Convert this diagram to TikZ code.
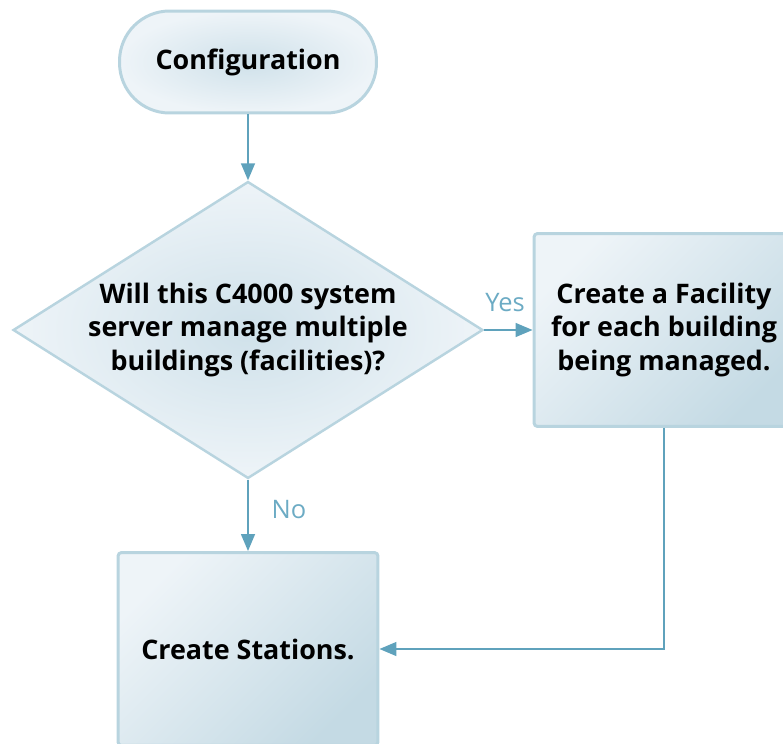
\documentclass[tikz,border=0pt]{standalone}
\usepackage{xcolor}
\usepackage{fontspec}
\setmainfont{Open Sans}
\usetikzlibrary{shapes.geometric,arrows.meta}
\definecolor{edgeblue}{HTML}{B8D4DF}
\definecolor{flowblue}{HTML}{5FA2BC}
\definecolor{labelblue}{HTML}{6CABC4}
\definecolor{palefill}{HTML}{EEF4F8}
\definecolor{deepfill}{HTML}{C4DAE4}
\definecolor{midfill}{HTML}{CFE1EA}

\begin{document}
\begin{tikzpicture}[x=0.02cm, y=-0.02cm]
    % styles
    \tikzset{
      terminal/.style   = {draw=edgeblue, line width=1.7pt, rounded corners=1cm,
                           inner color=midfill, outer color=palefill,
                           minimum width=5.14cm, minimum height=2.04cm},
      decision/.style   = {diamond, shape aspect=1.58, draw=edgeblue, line width=1.4pt, inner sep=0pt,
                           inner color=midfill, outer color=palefill, align=center,
                           minimum width=9.4cm, minimum height=5.94cm},
      process/.style    = {draw=edgeblue, line width=1.7pt, rounded corners=2pt,
                           top color=palefill, bottom color=deepfill, shading angle=45,
                           align=center, minimum width=5.2cm, minimum height=3.86cm},
      boldtext/.style   = {font=\fontsize{15.3}{18.8}\selectfont\bfseries},
      flowarrow/.style  = {-{Triangle[length=0.34cm, width=0.28cm]}, line width=0.85pt, draw=flowblue},
      flowlabel/.style  = {text=labelblue, font=\fontsize{14.5}{17}\selectfont}
    }
    \clip (0,0) rectangle (783,743);

    % Shapes:
    \node[terminal, boldtext] (config) at (248,62) {Configuration};
    \node[decision, boldtext] (decide) at (248,330)
      {Will this C4000 system\\server manage multiple\\buildings (facilities)?};
    \node[process, boldtext] (facility) at (664,330)
      {Create a Facility\\for each building\\being managed.};
    \node[process, boldtext] (stations) at (248,649) {Create Stations.};

    % Connectors:
    \draw[flowarrow] (config) -- (decide);
    \draw[flowarrow] (decide.east) -- (facility.west);
    \draw[flowarrow] (decide.south) -- (stations.north);
    \draw[flowarrow] (facility.south) |- (stations.east);

    \node[flowlabel] (yes) at (505,303) {Yes};
    \node[flowlabel] (no) at (289,510) {No};
\end{tikzpicture}
\end{document}
